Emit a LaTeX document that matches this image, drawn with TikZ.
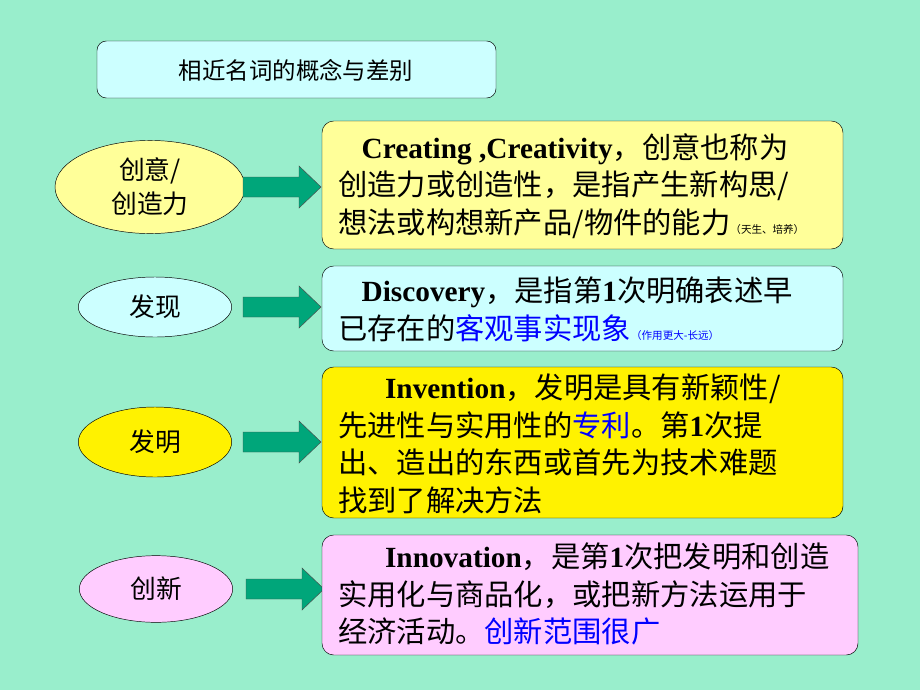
\documentclass[tikz,border=0pt]{standalone}
\usepackage{fontspec}
\setmainfont{Noto Sans CJK SC}
\newfontfamily\enfont{Liberation Serif}
\newcommand{\en}[1]{{\enfont\bfseries #1}}
\usetikzlibrary{shapes.geometric}
\definecolor{bgmint}{RGB}{153,238,204}
\definecolor{lyellow}{RGB}{255,255,153}
\definecolor{lcyan}{RGB}{204,255,255}
\definecolor{lpink}{RGB}{255,204,255}
\definecolor{arrowgreen}{RGB}{0,166,122}
\definecolor{tblue}{RGB}{0,0,255}
\tikzset{
  term/.style={draw=black,ellipse,font=\fontsize{22}{29}\selectfont,align=center},
  body/.style={font=\fontsize{25}{32}\selectfont,anchor=north west,align=left,inner sep=0pt},
  small/.style={font=\fontsize{12}{12}\selectfont}
}
\newcommand{\blockarr}[2]{% left x, centre y
  \draw[draw=black!70,fill=arrowgreen] (#1,#2-10) -- (#1+56,#2-10) -- (#1+56,#2-21) -- (#1+78,#2) -- (#1+56,#2+21) -- (#1+56,#2+10) -- (#1,#2+10) -- cycle;}
\begin{document}
\begin{tikzpicture}[x=0.03cm,y=-0.03cm]
\fill[bgmint] (0,0) rectangle (920,690);
\useasboundingbox (0,0) rectangle (920,690);
% title
\draw[fill=lcyan,rounded corners=8pt] (97,41) rectangle (496,98);
\node[font=\fontsize{20}{24}\selectfont] (title) at (296,70) {相近名词的概念与差别};
% terms
\node[term,fill=lyellow,minimum width=5.7cm,minimum height=2.7cm] (t1) at (150,187) {创意/\\创造力};
\node[term,fill=lcyan,minimum width=4.6cm,minimum height=1.8cm] (t2) at (155,307) {发现};
\node[term,fill=yellow,minimum width=4.6cm,minimum height=2.1cm] (t3) at (155,442) {发明};
\node[term,fill=lpink,minimum width=4.6cm,minimum height=2.0cm] (t4) at (156,589) {创新};
% arrows
\blockarr{243}{187}
\blockarr{243}{307}
\blockarr{243}{442}
\blockarr{246}{589}
% boxes
\draw[fill=lyellow,rounded corners=10pt] (322,121) rectangle (843,249);
\draw[fill=lcyan,rounded corners=10pt] (322,266) rectangle (843,351);
\draw[fill=yellow,rounded corners=10pt] (322,367) rectangle (843,518);
\draw[fill=lpink,rounded corners=10pt] (322,535) rectangle (858,655);
\node[body] (d1) at (338,133)
  {\hspace*{0.8em}\en{Creating ,Creativity}，创意也称为\\创造力或创造性，是指产生新构思/\\想法或构想新产品/物件的能力{\small（天生、培养）}};
\node[body] (d2) at (338,277)
  {\hspace*{0.8em}\en{Discovery}，是指第\en{1}次明确表述早\\已存在的\textcolor{tblue}{客观事实现象}\textcolor{tblue}{\small（作用更大-长远）}};
\node[body] (d3) at (338,374)
  {\hspace*{1.6em}\en{Invention}，发明是具有新颖性/\\先进性与实用性的\textcolor{tblue}{专利}。第\en{1}次提\\出、造出的东西或首先为技术难题\\找到了解决方法};
\node[body] (d4) at (338,543)
  {\hspace*{1.6em}\en{Innovation}，是第\en{1}次把发明和创造\\实用化与商品化，或把新方法运用于\\经济活动。\textcolor{tblue}{创新范围很广}};
\end{tikzpicture}
\end{document}
